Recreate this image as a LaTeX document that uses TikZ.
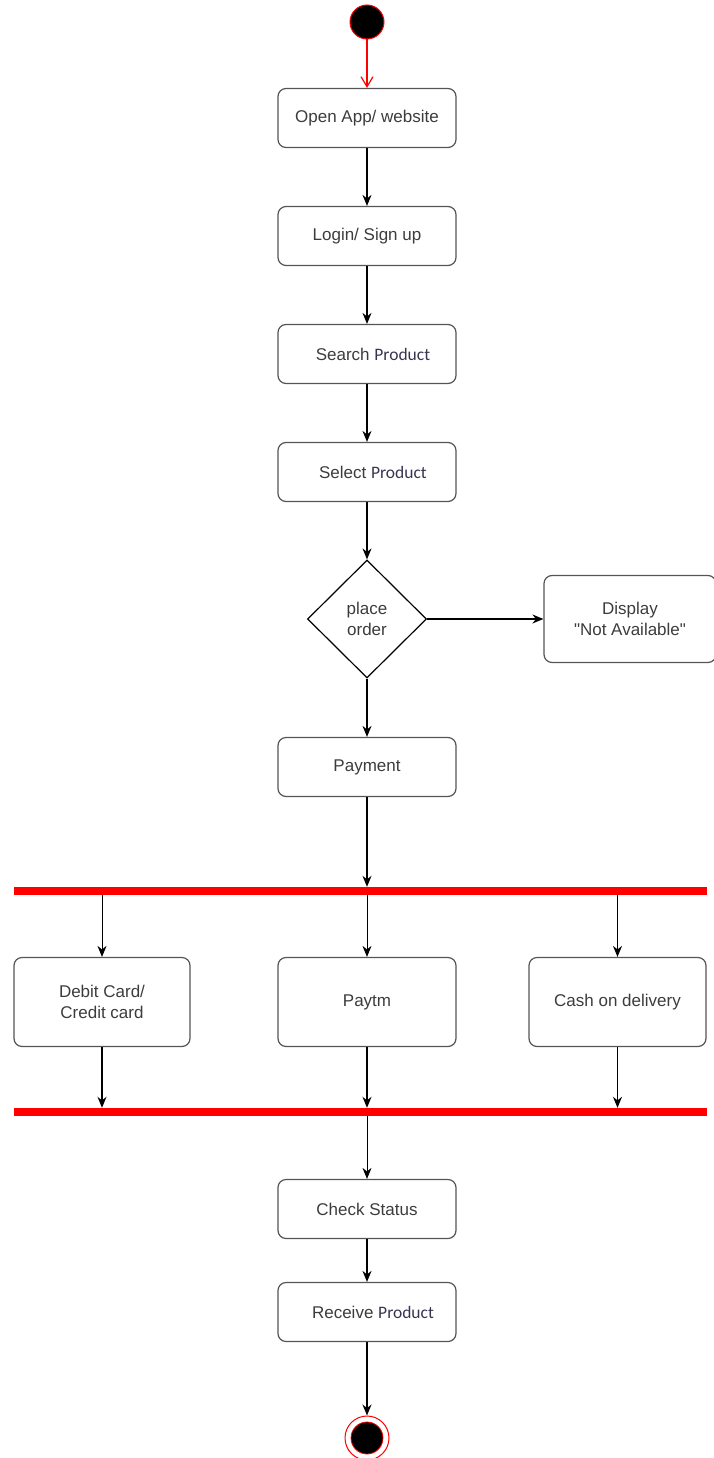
\documentclass[tikz,border=0pt]{standalone}
\usepackage{fontspec}
\setmainfont{Liberation Sans}
\newfontfamily\prodfont{Carlito}
\usetikzlibrary{shapes.geometric,arrows.meta}
\definecolor{txt}{HTML}{3C3C3C}
\definecolor{prod}{HTML}{3A3350}
\definecolor{edge}{HTML}{555555}
\newcommand{\Prod}{{\prodfont\color{prod}\fontsize{17.5}{20}\selectfont Product}}
\begin{document}
\begin{tikzpicture}[x=1pt,y=-1pt,
  act/.style={draw=edge,line width=1.2pt,rounded corners=8pt,minimum width=178pt,minimum height=59pt,align=center,text=txt,font=\fontsize{17}{21}\selectfont,inner sep=0pt},
  wide/.style={act,minimum height=89pt},
  dec/.style={draw=black,line width=1.2pt,diamond,minimum width=119pt,minimum height=118pt,inner sep=0pt,align=center,text=txt,font=\fontsize{17}{21}\selectfont,aspect=1},
  bar/.style={fill=red,draw=none,minimum width=693pt,minimum height=8pt,inner sep=0pt},
  flow/.style={-{Stealth[length=11pt,width=9pt]},line width=1.4pt,black},
  thin/.style={-{Stealth[length=11pt,width=9pt]},line width=1pt,black}
]
\useasboundingbox (0,0) rectangle (713,1458);
\node[circle,fill=black,draw=red,line width=1pt,minimum size=34pt,inner sep=0pt] (start) at (367,22) {};
\node[act] (open) at (367,118) {Open App/ website};
\node[act] (login) at (367,236) {Login/ Sign up};
\node[act] (search) at (367,354) {\hspace*{12pt}Search \Prod};
\node[act] (select) at (367,472) {\hspace*{12pt}Select \Prod};
\node[dec] (order) at (367,619) {place\\order};
\node[act,minimum width=172pt,minimum height=87pt] (na) at (630,619) {Display\\\textquotedbl Not Available\textquotedbl};
\node[act] (pay) at (367,767) {Payment};
\node[bar] (bar1) at (360,891) {};
\node[wide,minimum width=176pt] (debit) at (102,1002) {Debit Card/\\Credit card};
\node[wide] (paytm) at (367,1002) {Paytm};
\node[wide,minimum width=177pt] (cod) at (617.5,1002) {Cash on delivery};
\node[bar] (bar2) at (360,1112) {};
\node[act] (check) at (367,1209) {Check Status};
\node[act] (recv) at (367,1312) {\hspace*{12pt}Receive \Prod};
\node[circle,draw=red,line width=1pt,fill=white,minimum size=44pt,inner sep=0pt] (end) at (367,1438) {};
\node[circle,fill=black,draw=red,line width=0.8pt,minimum size=32pt,inner sep=0pt] (endin) at (end.center) {};

\draw[-{Straight Barb[length=10pt,width=12pt]},red,line width=1.2pt] (start) -- (open);
\draw[flow] (open) -- (login);
\draw[flow] (login) -- (search);
\draw[flow] (search) -- (select);
\draw[flow] (select) -- (order);
\draw[flow] (order) -- (na);
\draw[flow] (order) -- (pay);
\draw[flow] (pay) -- (pay |- bar1.north);
\draw[thin] (bar1.south -| debit) -- (debit);
\draw[thin] (bar1.south -| paytm) -- (paytm);
\draw[thin] (bar1.south -| cod) -- (cod);
\draw[flow] (debit) -- (debit |- bar2.north);
\draw[flow] (paytm) -- (paytm |- bar2.north);
\draw[flow] (cod) -- (cod |- bar2.north);
\draw[thin] (bar2.south -| check) -- (check);
\draw[flow] (check) -- (recv);
\draw[flow] (recv) -- (end);
\end{tikzpicture}
\end{document}
